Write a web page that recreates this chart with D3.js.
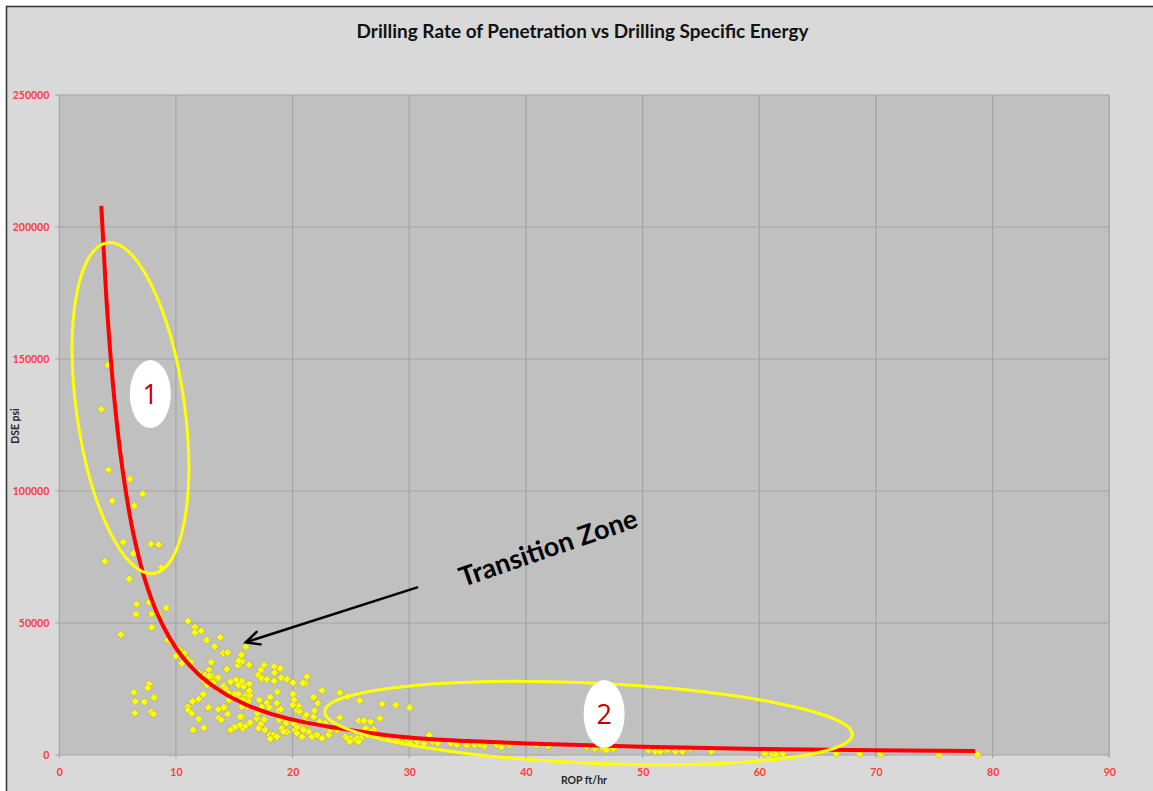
<!DOCTYPE html>
<html><head><meta charset="utf-8">
<script src="https://cdn.jsdelivr.net/npm/d3@7"></script>
<style>
body{margin:0;background:#fff;}
text{font-family:Lato,"Open Sans","Liberation Sans",sans-serif;}
</style>
</head><body>
<svg id="chart" width="1153" height="791"></svg>
<script>
// ---------- data ----------
const chartTitle = "Drilling Rate of Penetration vs Drilling Specific Energy";
const xAxisTitle = "ROP ft/hr";
const yAxisTitle = "DSE psi";
const xTickValues = [0,10,20,30,40,50,60,70,80,90];
const yTickValues = [0,50000,100000,150000,200000,250000];

// scatter: ROP (ft/hr)
const ropValues = [
 4.16,3.59,4.22,6.05,7.14,4.53,6.43,5.48,7.86,8.52,6.34,3.9,8.75,6.0,6.63,6.57,7.92,8.52,9.18,7.92,5.28,7.69,
 6.4,7.69,7.57,6.51,7.29,8.12,6.48,7.89,8.06,
 11.04,11.62,11.62,12.16,12.62,13.31,13.8,14.06,14.4,15.98,15.66,15.29,15.32,15.66,16.29,14.35,13.02,10.27,10.7,9.98,11.04,11.27,11.94,12.82,12.5,13.08,13.51,12.39,12.91,14.63,15.29,15.81,16.29,14.09,13.57,14.29,14.8,15.29,16.07,15.69,16.21,12.34,11.94,11.42,11.02,11.04,11.36,12.74,13.68,14.2,13.66,14.43,13.88,11.96,12.39,11.47,14.66,14.92,15.43,15.64,15.72,15.98,16.35,16.12,
 9.3,9.6,10.49,
 17.56,18.42,18.93,18.45,19.02,18.42,17.27,17.04,17.36,17.79,19.51,20.03,21.08,21.23,15.63,15.15,14.69,14.37,14.43,15.6,15.4,16.27,12.85,13.63,13.19,12.68,12.77,13.63,14.11,14.57,14.49,15.06,15.35,15.58,15.78,16.35,16.29,15.78,15.35,16.15,15.63,15.49,16.35,15.49,15.06,14.69,16.93,17.15,16.98,17.36,17.79,18.07,18.0,17.56,17.27,17.07,17.64,18.07,18.36,18.16,18.7,18.65,18.79,18.99,19.22,18.87,19.45,19.08,19.51,20.02,20.14,20.51,20.37,20.6,21.08,21.23,20.8,20.22,
 20.88,22.52,21.8,22.15,24.04,24.73,25.76,27.68,28.83,30.03,20.02,21.17,21.86,21.8,22.32,22.8,24.04,25.67,26.1,26.68,27.48,26.96,20.37,21.37,21.95,22.52,23.09,24.53,24.96,25.39,25.82,26.39,20.8,29.26,31.7,31.99,
 18.07,18.65,19.22,20.08,20.37,20.94,21.66,22.09,23.09,23.24,23.81,24.67,25.53,26.25,26.68,27.25,28.11,28.97,29.83,30.7,31.26,32.42,33.56,34.14,35.0,35.86,36.43,37.44,
 24.9,25.65,28.9,30.06,34.06,34.9,35.6,36.06,37.5,37.9,38.6,40.9,41.9,45.2,45.9,46.6,46.9,47.5,50.5,51.1,51.5,52.1,52.8,53.4,54.1,55.9,60.4,61.1,62.0,60.5,61.4,66.6,68.6,70.4,75.4,78.7
];
// scatter: DSE (psi)
const dseValues = [
 147700,131000,108000,104500,98900,96300,94400,80600,79900,79700,76300,73400,71000,66700,57100,53300,53400,53300,55700,48400,45600,57800,
 23700,26900,25400,20300,20100,21800,15900,16300,15500,
 50800,48400,46400,47000,43600,41100,44600,38600,38600,41000,38100,35600,34000,35500,34000,32700,35100,40000,38500,37500,36200,35200,31200,32300,30300,29800,29300,28400,27400,27800,28400,27200,26900,26100,24900,24900,22800,22800,22800,21500,20700,23000,21200,20300,18300,17000,15800,17800,17500,18000,14000,15500,13300,13600,10300,9500,9500,10500,11000,14500,10100,11000,12000,18300,
 43500,42800,34700,
 34100,33500,32800,31200,29300,28000,32200,30300,29000,28700,28700,27400,27200,29700,28000,28400,27700,32500,38800,37900,35700,34100,30000,29300,27400,26500,18000,17300,18000,20800,23400,23100,23100,20800,20800,22700,24400,25900,26500,19600,18300,14500,12300,11400,10500,9500,13900,20800,15800,18300,19800,21900,18000,13500,11700,10100,9500,7600,7600,6300,24000,19600,17000,17300,13900,13300,12000,10100,8800,23100,20800,18600,16800,16400,14500,12000,10100,9500,
 27200,24400,21900,19600,23600,22100,20600,19300,18900,18000,18900,15200,16800,14500,12600,12000,14200,13000,13000,12600,13900,9700,10700,8800,7600,6300,8200,6900,6300,5700,6300,7600,6900,5000,7600,5000,
 6060,6940,8830,12000,8200,9470,6940,7580,7580,9470,9470,6300,6300,10100,8830,7580,6940,5680,5680,5050,4420,4420,4420,3790,3790,4420,3410,3790,
 5000,5000,5000,4400,4000,3800,3800,4000,3800,3100,3800,3800,3400,3100,2500,2500,1900,2500,1900,1300,1300,1900,1300,1300,2500,1300,600,300,600,600,300,600,400,400,200,200
];

// power trendline
const trendRop = [3.6,4,4.5,5,6,7,8,9,10,12,14,16,18,20,25,30,35,40,50,60,70,78.5];
const trendDse = [208000,175600,145400,122900,91800,71700,57900,48000,40500,30300,23700,19100,15800,13400,9400,6600,5300,4400,3100,2300,1800,1500];

// annotations (data coordinates)
const zoneLabels = ["1","2"];
const zoneCenterRop = [6.1, 45.36];
const zoneCenterDse = [131400, 12100];
const badgeRop = [7.8, 46.7];
const badgeDse = [136700, 15500];
const transitionText = "Transition Zone";
const arrowFrom = [30.75, 63600];
const arrowTo = [15.98, 42700];
const transitionTextPos = [41.9, 78500];

// ---------- drawing ----------
const svg = d3.select("#chart");
const W = 1153, H = 791;
const plot = {left: 59.3, right: 1109.3, top: 95, bottom: 755};

svg.append("rect").attr("x",6).attr("y",6).attr("width",W-6).attr("height",H-6).attr("fill","#d9d9d9");
svg.append("line").attr("x1",6).attr("x2",W).attr("y1",6.5).attr("y2",6.5).attr("stroke","#333").attr("stroke-width",1.5);
svg.append("line").attr("x1",6.5).attr("x2",6.5).attr("y1",6).attr("y2",H).attr("stroke","#333").attr("stroke-width",1.5);

const x = d3.scaleLinear().domain([0,90]).range([plot.left, plot.right]);
const y = d3.scaleLinear().domain([0,250000]).range([plot.bottom, plot.top]);

svg.append("rect").attr("x",plot.left).attr("y",plot.top)
  .attr("width",plot.right-plot.left).attr("height",plot.bottom-plot.top).attr("fill","#c0c0c0");

// gridlines
const gridColor = "#a3a3a3";
svg.append("g").selectAll("line").data(yTickValues).join("line")
  .attr("x1",plot.left-4).attr("x2",plot.right).attr("y1",d=>y(d)).attr("y2",d=>y(d))
  .attr("stroke",gridColor).attr("stroke-width",1.2);
svg.append("g").selectAll("line").data(xTickValues).join("line")
  .attr("x1",d=>x(d)).attr("x2",d=>x(d)).attr("y1",plot.top).attr("y2",plot.bottom+3)
  .attr("stroke",gridColor).attr("stroke-width",1.2);

// axes (labels only)
const tickColor = "#ff3b3b";
const yAxis = svg.append("g").attr("transform",`translate(${plot.left},0)`)
  .call(d3.axisLeft(y).tickValues(yTickValues).tickFormat(d3.format("d")).tickSize(0).tickPadding(10));
yAxis.select(".domain").remove();
yAxis.selectAll("text").attr("fill",tickColor).attr("font-size","10.5px").attr("font-weight","bold")
  .style("font-family","Lato, sans-serif");
const xAxis = svg.append("g").attr("transform",`translate(0,${plot.bottom})`)
  .call(d3.axisBottom(x).tickValues(xTickValues).tickFormat(d3.format("d")).tickSize(0).tickPadding(14));
xAxis.select(".domain").remove();
xAxis.selectAll("text").attr("fill",tickColor).attr("font-size","10.5px").attr("font-weight","bold")
  .style("font-family","Lato, sans-serif");

// axis titles
svg.append("text").attr("x",584).attr("y",784).attr("text-anchor","middle")
  .attr("font-size","10.5px").attr("font-weight","bold").attr("fill","#262626").text(xAxisTitle);
svg.append("text").attr("transform","translate(19,426) rotate(-90)").attr("text-anchor","middle")
  .attr("font-size","10.5px").attr("font-weight","bold").attr("fill","#262626").text(yAxisTitle);

// title
const t = svg.append("text").attr("x",582.5).attr("y",38).attr("text-anchor","middle")
  .attr("font-size","18px").attr("font-weight","bold").attr("fill","#111").text(chartTitle);
const tw = t.node().getComputedTextLength();
t.attr("font-size", (18*452/tw).toFixed(2)+"px");

// scatter points
const pts = ropValues.map((r,i)=>[r, dseValues[i]]);
const diamond = "M0,-4L4,0L0,4L-4,0Z";
svg.append("g").selectAll("path").data(pts).join("path")
  .attr("transform",d=>`translate(${x(d[0])},${y(d[1])})`)
  .attr("d",diamond).attr("fill","#ffff00").attr("stroke","#a8a860").attr("stroke-width",0.6);

// trendline
const trend = trendRop.map((r,i)=>[r, trendDse[i]]);
svg.append("path").datum(trend)
  .attr("d", d3.line().x(d=>x(d[0])).y(d=>y(d[1])).curve(d3.curveMonotoneX))
  .attr("fill","none").attr("stroke","#ff0000").attr("stroke-width",4).attr("stroke-linejoin","round");

// zone ellipses
const zoneShape = [{rx:54, ry:167, rot:-8},{rx:264, ry:40, rot:2.5}];
zoneLabels.forEach((lab,i)=>{
  const cx = x(zoneCenterRop[i]), cy = y(zoneCenterDse[i]);
  svg.append("ellipse").attr("cx",0).attr("cy",0).attr("rx",zoneShape[i].rx).attr("ry",zoneShape[i].ry)
    .attr("transform",`translate(${cx},${cy}) rotate(${zoneShape[i].rot})`)
    .attr("fill","none").attr("stroke","#ffff00").attr("stroke-width",3);
});
zoneLabels.forEach((lab,i)=>{
  const bx = x(badgeRop[i]), by = y(badgeDse[i]);
  svg.append("ellipse").attr("cx",bx).attr("cy",by).attr("rx",20.5).attr("ry",34).attr("fill","#ffffff");
  svg.append("text").attr("x",bx).attr("y",by).attr("dy","0.36em").attr("text-anchor","middle")
    .attr("font-size","27px").attr("fill","#c00000").style("font-family","'Open Sans', Lato, sans-serif").text(lab);
});

// arrow
const ax1 = x(arrowFrom[0]), ay1 = y(arrowFrom[1]), ax2 = x(arrowTo[0]), ay2 = y(arrowTo[1]);
svg.append("line").attr("x1",ax1).attr("y1",ay1).attr("x2",ax2).attr("y2",ay2)
  .attr("stroke","#000").attr("stroke-width",2.5);
const ang = Math.atan2(ay1-ay2, ax1-ax2);
const hl = 15, ha = 0.45;
svg.append("path")
  .attr("d",`M${ax2+hl*Math.cos(ang+ha)},${ay2+hl*Math.sin(ang+ha)}L${ax2},${ay2}L${ax2+hl*Math.cos(ang-ha)},${ay2+hl*Math.sin(ang-ha)}`)
  .attr("fill","none").attr("stroke","#000").attr("stroke-width",2.5).attr("stroke-linecap","round");

svg.append("text")
  .attr("transform",`translate(${x(transitionTextPos[0])},${y(transitionTextPos[1])}) rotate(-19)`)
  .attr("text-anchor","middle").attr("dy","0.35em")
  .attr("font-size","27px").attr("font-weight","bold").attr("fill","#000").text(transitionText);
</script>
</body></html>
